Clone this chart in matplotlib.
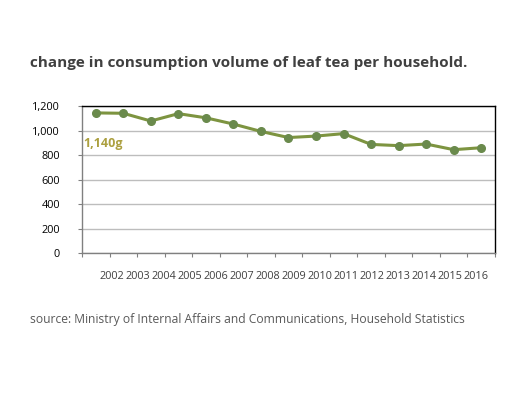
import matplotlib.pyplot as plt
import numpy as np

years = ["2002", "2003", "2004", "2005", "2006", "2007", "2008", "2009",
         "2010", "2011", "2012", "2013", "2014", "2015", "2016"]
# grams of leaf tea per household
volume = [1146, 1143, 1080, 1140, 1106, 1055, 995, 945,
          957, 977, 889, 879, 892, 846, 862]
y_ticks = [0, 200, 400, 600, 800, 1000, 1200]
y_labels = ["0", "200", "400", "600", "800", "1,000", "1,200"]

fig = plt.figure(figsize=(5.31, 3.99), dpi=100)
ax = fig.add_axes([0.1544, 0.365, 0.7778, 0.3686])

x = np.arange(len(years))
ax.plot(x, volume, color="#7D9440", lw=2.2, marker="o", ms=5.5,
        mfc="#6A8A4C", mec="#6A8A4C", zorder=3)

ax.set_xlim(-0.5, len(years) - 0.5)
ax.set_ylim(0, 1200)
ax.set_yticks(y_ticks, y_labels)
ax.yaxis.grid(True, color="#BDBDBD", lw=1)
ax.set_axisbelow(True)

# tick marks at category edges, year labels drawn slightly off them
ax.set_xticks(np.arange(-0.5, len(years)), [""] * (len(years) + 1))
ax.set_xticks(0.58 + 0.945 * x, years, minor=True)
ax.tick_params(axis="x", which="minor", length=0, pad=13, labelsize=7.8,
               labelcolor="#404040")
ax.tick_params(axis="x", which="major", length=3, color="#808080")
ax.tick_params(axis="y", length=3, color="#808080", labelsize=7.8,
               labelcolor="#000000", pad=13)
for lab in ax.get_xticklabels(minor=True) + ax.get_yticklabels():
    lab.set_family("Open Sans")

ax.spines["left"].set_color("#808080")
ax.spines["bottom"].set_color("#808080")
ax.spines["top"].set_color("#000000")
ax.spines["right"].set_color("#000000")
for s in ax.spines.values():
    s.set_linewidth(1)

ax.text(0.003, 0.75, "1,140g", transform=ax.transAxes, ha="left", va="center",
        fontsize=9, fontweight="bold", color="#ACA040", family="Open Sans")

fig.text(0.0565, 0.842, "change in consumption volume of leaf tea per household.",
         ha="left", va="center", fontsize=11, fontweight="bold",
         color="#404040", family="Open Sans")
fig.text(0.0565, 0.2005,
         "source: Ministry of Internal Affairs and Communications, Household Statistics",
         ha="left", va="center", fontsize=8.7, color="#595959", family="Open Sans")

fig.savefig("out.png", dpi=100)
